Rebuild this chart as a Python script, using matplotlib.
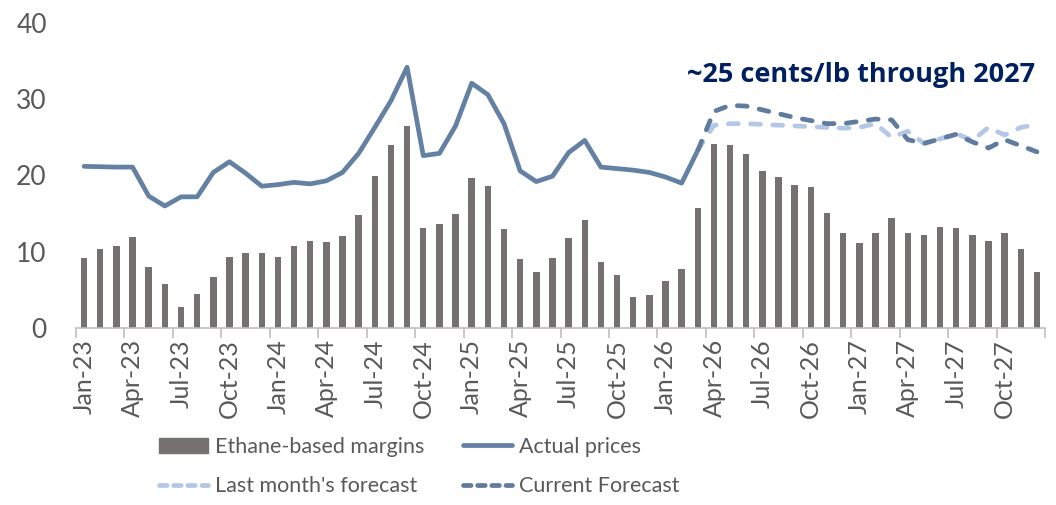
import numpy as np
import matplotlib.pyplot as plt
from matplotlib.lines import Line2D
from matplotlib.patches import Patch

plt.rcParams['font.family'] = ['Lato', 'DejaVu Sans']

# Monthly categories Jan-23 .. Dec-27
months = ['Jan', 'Feb', 'Mar', 'Apr', 'May', 'Jun',
          'Jul', 'Aug', 'Sep', 'Oct', 'Nov', 'Dec']
years = ['23', '24', '25', '26', '27']
labels = [f'{m}-{y}' for y in years for m in months]

# Ethane-based margins (bars)
margins = [9.2, 10.3, 10.8, 11.9, 8.0, 5.8, 2.7, 4.5, 6.7, 9.3, 9.8, 9.8,
           9.3, 10.8, 11.4, 11.3, 12.1, 14.8, 19.9, 24.0, 26.5, 13.1, 13.7, 14.9,
           19.7, 18.6, 13.0, 9.1, 7.3, 9.2, 11.8, 14.1, 8.6, 7.0, 4.0, 4.3,
           6.1, 7.8, 15.7, 24.1, 24.0, 22.8, 20.6, 19.8, 18.8, 18.5, 15.1, 12.5,
           11.2, 12.4, 14.4, 12.4, 12.2, 13.2, 13.1, 12.2, 11.4, 12.4, 10.4, 7.4]

# Actual prices Jan-23 .. Mar-26
actual = [21.2, 21.15, 21.1, 21.1, 17.3, 16.0, 17.2, 17.2, 20.4, 21.8, 20.3, 18.6,
          18.8, 19.1, 18.9, 19.3, 20.4, 22.9, 26.3, 29.8, 34.2, 22.6, 22.9, 26.5,
          32.1, 30.6, 26.8, 20.6, 19.2, 19.9, 23.0, 24.6, 21.1, 20.9, 20.7, 20.4,
          19.8, 19.0, 23.3]

# Forecasts Mar-26 .. Dec-27
last_forecast = [23.3, 26.6, 26.8, 26.8, 26.7, 26.6, 26.5, 26.4, 26.3, 26.2, 26.3,
                 26.8, 25.0, 25.8, 24.2, 24.8, 25.5, 24.6, 26.3, 25.3, 26.3, 26.7]
current_forecast = [23.3, 28.4, 29.2, 29.1, 28.6, 28.1, 27.6, 27.2, 26.8, 26.8, 27.1,
                    27.4, 27.3, 24.7, 24.2, 24.8, 25.4, 24.4, 23.6, 24.7, 23.9, 23.1]

bar_color = '#767171'
actual_color = '#6480A3'
light_color = '#B4C7E7'
dark_color = '#5F7B9E'
text_color = '#595959'

fig = plt.figure(figsize=(10.56, 5.05), dpi=100)
ax = fig.add_axes([0.072, 0.3505, 0.9176, 0.604])

x = np.arange(len(labels))
ax.bar(x, margins, width=0.4, color=bar_color, zorder=2)

x_act = np.arange(len(actual))
ax.plot(x_act, actual, color=actual_color, lw=3.4, solid_capstyle='round',
        solid_joinstyle='round', zorder=3)

x_fc = np.arange(len(actual) - 1, len(labels))
ax.plot(x_fc, last_forecast, color=light_color, lw=3.4, dashes=(2.1, 2.6),
        dash_capstyle='round', zorder=3)
ax.plot(x_fc, current_forecast, color=dark_color, lw=3.4, dashes=(2.1, 2.6),
        dash_capstyle='round', zorder=4)

ax.set_xlim(-0.5, len(labels) - 0.5)
ax.set_ylim(0, 40)
ax.set_yticks([0, 10, 20, 30, 40])

# labels on every 3rd month, tick marks at category boundaries
ax.set_xticks(x[::3])
ax.set_xticklabels(labels[::3], rotation=90)
ax.set_xticks(np.arange(-0.5, len(labels), 3), minor=True)
ax.tick_params(axis='x', which='major', length=0, pad=8, labelsize=18,
               labelcolor=text_color)
ax.tick_params(axis='x', which='minor', length=7, width=1.2, color='#BFBFBF',
               direction='out')
ax.tick_params(axis='y', length=0, pad=21, labelsize=19, labelcolor=text_color)

for s in ['top', 'right', 'left']:
    ax.spines[s].set_visible(False)
ax.spines['bottom'].set_color('#BFBFBF')
ax.spines['bottom'].set_linewidth(1.2)

ax.text(0.99, 0.83, '~25 cents/lb through 2027', transform=ax.transAxes,
        ha='right', va='center', fontsize=19.5, fontweight='bold', color='#002060',
        family=['Open Sans', 'Lato'])

handles = [
    Patch(color=bar_color),
    Line2D([], [], color=light_color, lw=3.4, dashes=(1.6, 1.4), dash_capstyle='round'),
    Line2D([], [], color=actual_color, lw=3.4, solid_capstyle='round'),
    Line2D([], [], color=dark_color, lw=3.4, dashes=(1.6, 1.4), dash_capstyle='round'),
]
names = ['Ethane-based margins', "Last month's forecast",
         'Actual prices', 'Current Forecast']
leg = fig.legend(handles, names, ncol=2, loc='center left',
                 bbox_to_anchor=(0.140, 0.076), frameon=False, fontsize=15.5,
                 handlelength=2.3, handleheight=0.75, handletextpad=0.3,
                 columnspacing=1.8, labelspacing=0.9, borderpad=0)
for t in leg.get_texts():
    t.set_color(text_color)

fig.savefig('out.png', dpi=100)
